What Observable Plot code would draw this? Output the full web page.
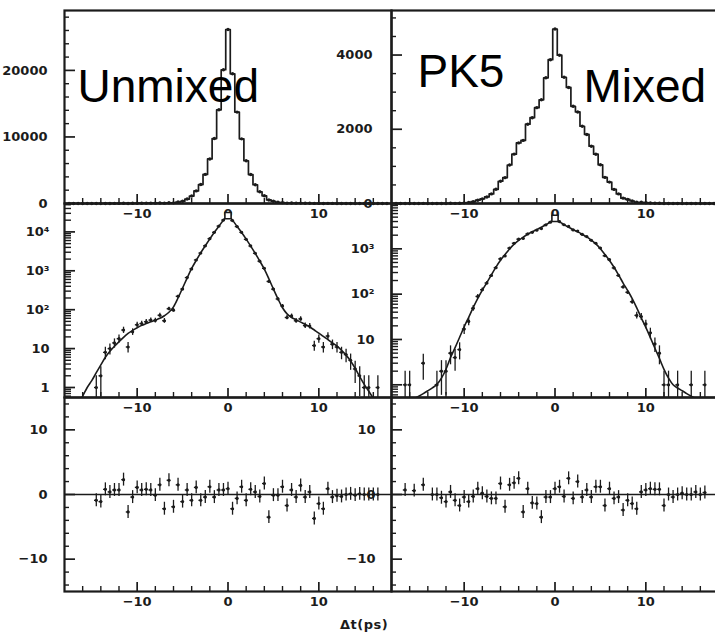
<!DOCTYPE html>
<html>
<head>
<meta charset="utf-8">
<script src="https://cdn.jsdelivr.net/npm/d3@7"></script>
<script src="https://cdn.jsdelivr.net/npm/@observablehq/plot@0.6"></script>
<style>
  html, body { margin: 0; padding: 0; background: #fff; overflow: hidden; }
  #chart { position: relative; width: 715px; height: 635px; overflow: hidden; background: #fff; }
  #chart svg { position: absolute; overflow: visible; }
  #xcaption { position: absolute; left: 340px; top: 617px; font: bold 13px "DejaVu Sans", sans-serif; letter-spacing: 0.5px; color: #1b1b1b; }
</style>
</head>
<body>
<div id="chart"><div id="xcaption">Δt(ps)</div></div>
<script>
// ---- bin centres (Δt, ps) ----
const dt = [-17.5,-17,-16.5,-16,-15.5,-15,-14.5,-14,-13.5,-13,-12.5,-12,-11.5,-11,-10.5,-10,-9.5,-9,-8.5,-8,-7.5,-7,-6.5,-6,-5.5,-5,-4.5,-4,-3.5,-3,-2.5,-2,-1.5,-1,-0.5,0,0.5,1,1.5,2,2.5,3,3.5,4,4.5,5,5.5,6,6.5,7,7.5,8,8.5,9,9.5,10,10.5,11,11.5,12,12.5,13,13.5,14,14.5,15,15.5,16,16.5,17,17.5];

// ---- Unmixed sample ----
const unmixedCounts = [0,0,0,0,0,0,1,2,8,10,14,18,30,11,27,41,44,49,54,53,72,52,106,97,221,339,668,1119,1897,2851,4373,6697,9760,14083,20099,26145,19490,13730,9718,6427,4352,2821,1767,1156,533,338,189,125,63,69,52,58,39,38,12,18,11,21,13,11,8,7,5,3,2,1,1,0,1,0,0];
const unmixedFit = [0.15,0.25,0.38,0.6,1.0,1.5,2.4,3.8,6.0,8.5,11.5,15,19.5,24.5,29.5,34.5,39.5,44,49,54,60,70,86,118,200,360,650,1150,1850,2900,4400,6600,9800,14000,20000,26000,19800,13800,9600,6500,4300,2800,1780,1100,620,340,190,112,78,63,55,48,42,36,30,25,20.5,17,14,11.5,9,6.8,4.8,3.1,1.9,1.2,0.8,0.52,0.33,0.2,0.12];
const unmixedResid = [null,null,null,null,null,null,-0.9,-1.1,0.8,0.4,0.7,0.7,2.3,-2.7,-0.4,1.1,0.7,0.8,0.7,-0.1,1.5,-2.2,2.2,-1.9,1.5,-1.1,0.7,-0.9,1.1,-0.9,-0.4,1.2,-0.4,0.7,0.7,0.9,-2.2,-0.6,1.2,-0.9,0.8,0.4,-0.3,1.7,-3.5,-0.1,-0.1,1.2,-1.7,0.7,-0.4,1.4,-0.4,0.4,-3.7,-1.4,-2.2,0.9,-0.4,-0.2,-0.3,0,0.1,-0.1,0.1,0,0,0,0,null,null];

// ---- Mixed sample ----
const mixedCounts = [0,0,1,1,0,0,3,0,0,1,2,2,5,4,6,17,25,49,89,125,176,258,383,600,696,1037,1329,1633,1700,2136,2312,2583,2794,3387,3875,4701,3995,3402,3127,2619,2467,2082,1860,1544,1328,1043,703,576,380,258,144,110,68,34,32,22,14,8,5,1,1,0,1,0,0,1,0,0,1,0,0];
const mixedFit = [0.36,0.39,0.42,0.45,0.5,0.56,0.64,0.74,0.86,1.02,1.4,2.2,4.0,6.6,11.2,19,31,51,81,123,180,268,395,560,748,990,1265,1535,1815,2095,2375,2655,2985,3410,3900,4640,3920,3420,2990,2650,2370,2100,1830,1560,1285,1005,750,555,392,265,176,120,80,50,30,18.5,11,6.4,3.8,2.2,1.4,1.0,0.85,0.74,0.64,0.56,0.5,0.45,0.42,0.39,0.36];
const mixedResid = [null,null,0.7,null,0.6,null,1.5,null,0,0,-0.5,-1.1,0.4,-0.9,-1.7,-0.4,-1.1,-0.3,0.9,0.2,-0.3,-0.6,-0.6,1.7,-1.9,1.5,1.8,2.5,-2.7,0.9,-1.3,-1.4,-3.5,-0.4,-0.4,0.9,1.2,-0.3,2.5,-0.6,2.0,-0.4,0.7,-0.4,1.2,1.2,-1.7,0.9,-0.6,-0.4,-2.4,-0.9,-1.4,-2.2,0.4,0.7,0.9,0.8,0.8,-1.7,0,-0.4,0,0.2,0,0,0.4,0,0.3,null,null];
const residErr = 1;

// ---- ticks and tick labels ----
const xMajor = [-10, 0, 10];
const xLabels = ["\u221210", "0", "10"];
const xMinor = [-16,-14,-12,-8,-6,-4,-2,2,4,6,8,12,14,16];
const linLeftMajor = [0, 10000, 20000];
const linLeftLabels = ["0", "10000", "20000"];
const linLeftMinor = [2000,4000,6000,8000,12000,14000,16000,18000,22000,24000,26000,28000];
const linRightMajor = [0, 2000, 4000];
const linRightLabels = ["0", "2000", "4000"];
const linRightMinor = [500,1000,1500,2500,3000,3500,4500,5000];
const logLeftMajor = [1, 10, 100, 1000, 10000];
const logLeftLabels = ["1", "10", "10\u00B2", "10\u00B3", "10\u2074"];
const logRightMajor = [1, 10, 100, 1000, 10000];
const logRightLabels = ["", "10", "10\u00B2", "10\u00B3", ""];
const logMinorLeft = [0.6,0.7,0.8,0.9,2,3,4,5,6,7,8,9,20,30,40,50,60,70,80,90,200,300,400,500,600,700,800,900,2000,3000,4000,5000,6000,7000,8000,9000,20000,30000,40000,50000];
const logMinorRight = [0.6,0.7,0.8,0.9,2,3,4,5,6,7,8,9,20,30,40,50,60,70,80,90,200,300,400,500,600,700,800,900,2000,3000,4000,5000,6000,7000,8000,9000];
const resMajor = [-10, 0, 10];
const resLabels = ["\u221210", "0", "10"];
const resMinor = [-14,-12,-8,-6,-4,-2,2,4,6,8,12,14];

const INK = "#1b1b1b";
const FONT = "'DejaVu Sans', sans-serif";
const BIG = "'Liberation Sans', Arial, sans-serif";
const chart = document.getElementById("chart");

const rows = (counts, fit, resid) => dt.map((t, i) => ({t, n: counts[i], fit: fit[i], r: resid[i]}));
const unmixed = rows(unmixedCounts, unmixedFit, unmixedResid);
const mixed = rows(mixedCounts, mixedFit, mixedResid);

function xAxes() {
  return [
    Plot.axisX({ticks: xMinor, tickSize: -5, tickFormat: () => "", stroke: INK, strokeWidth: 1.4, label: null}),
    Plot.axisX({ticks: xMajor, tickSize: -9, tickFormat: () => "", stroke: INK, strokeWidth: 1.7, label: null}),
    Plot.axisX({ticks: xMajor, tickSize: 0, tickPadding: 5, tickFormat: d => xLabels[xMajor.indexOf(d)], label: null, fill: INK})
  ];
}
function yAxes(major, labels, minor, pad, minorLen = 5) {
  return [
    Plot.axisY({ticks: minor, tickSize: -minorLen, tickFormat: () => "", stroke: INK, strokeWidth: 1.4, label: null}),
    Plot.axisY({ticks: major, tickSize: -11, tickFormat: () => "", stroke: INK, strokeWidth: 1.7, label: null}),
    Plot.axisY({ticks: major, tickSize: 0, tickPadding: pad, tickFormat: d => labels[major.indexOf(d)], label: null, fill: INK})
  ];
}

function panel(left, top, h, y, marks) {
  const W = 327, ML = 70, MR = 4, MT = 4, MB = 26;
  const svg = Plot.plot({
    width: W + ML + MR, height: h + MT + MB,
    marginLeft: ML, marginRight: MR, marginTop: MT, marginBottom: MB,
    style: {background: "transparent", overflow: "visible", fontFamily: FONT, fontSize: "13px", fontWeight: "bold", color: INK},
    x: {domain: [-18, 18]},
    y,
    marks: [...marks, ...xAxes(), Plot.frame({stroke: INK, strokeWidth: 2.2})]
  });
  svg.style.left = (left - ML) + "px";
  svg.style.top = (top - MT) + "px";
  chart.appendChild(svg);
}

function linMarks(data) {
  return [
    Plot.line(data, {x: "t", y: "n", curve: "step", stroke: INK, strokeWidth: 1.7}),
    Plot.dot(data, {x: "t", y: "n", r: 1.7, fill: INK})
  ];
}
function logMarks(data) {
  const pts = data.filter(d => d.n > 0);
  return [
    Plot.line(data, {x: "t", y: "fit", curve: "monotone-x", stroke: INK, strokeWidth: 1.6, clip: true}),
    Plot.ruleX(pts, {x: "t", y1: d => Math.max(d.n - Math.sqrt(d.n), 0.01), y2: d => d.n + Math.sqrt(d.n), stroke: INK, strokeWidth: 1.3, clip: true}),
    Plot.ruleY(pts, {y: "n", x1: d => d.t - 0.2, x2: d => d.t + 0.2, stroke: INK, strokeWidth: 1.3, clip: true}),
    Plot.dot(pts, {x: "t", y: "n", r: 1.6, fill: INK, clip: true}),
    Plot.dot(pts.filter(d => d.t === 0), {x: "t", y: "n", symbol: "square", r: 3.5, fill: "white", stroke: INK, strokeWidth: 1.6})
  ];
}
function resMarks(data) {
  const pts = data.filter(d => d.r !== null);
  return [
    Plot.ruleY([0], {stroke: INK, strokeWidth: 1.6}),
    Plot.ruleX(pts, {x: "t", y1: d => d.r - residErr, y2: d => d.r + residErr, stroke: INK, strokeWidth: 1.3}),
    Plot.ruleY(pts, {y: "r", x1: d => d.t - 0.2, x2: d => d.t + 0.2, stroke: INK, strokeWidth: 1.3}),
    Plot.dot(pts, {x: "t", y: "r", r: 1.6, fill: INK})
  ];
}
const bigText = (label, dx, dy) => Plot.text([label], {frameAnchor: "top-left", dx, dy, text: d => d, fontSize: 46, fontWeight: "normal", fontFamily: BIG, textAnchor: "start", lineAnchor: "top", fill: "#000"});

// Right column
panel(391, 10, 193, {domain: [0, 5200]}, [
  ...linMarks(mixed), ...yAxes(linRightMajor, linRightLabels, linRightMinor, 19),
  bigText("PK5", 26, 44), bigText("Mixed", 192, 59)
]);
panel(391, 203, 194, {type: "log", domain: [0.525, 10000]}, [
  ...logMarks(mixed), ...yAxes(logRightMajor, logRightLabels, logMinorRight, 17, 7)
]);
panel(391, 397, 194, {domain: [-15, 15]}, [
  ...resMarks(mixed), ...yAxes(resMajor, resLabels, resMinor, 16)
]);
// Left column
panel(64, 10, 193, {domain: [0, 29000]}, [
  ...linMarks(unmixed), ...yAxes(linLeftMajor, linLeftLabels, linLeftMinor, 17),
  bigText("Unmixed", 13, 59)
]);
panel(64, 203, 194, {type: "log", domain: [0.553, 53700]}, [
  ...logMarks(unmixed), ...yAxes(logLeftMajor, logLeftLabels, logMinorLeft, 15, 7)
]);
panel(64, 397, 194, {domain: [-15, 15]}, [
  ...resMarks(unmixed), ...yAxes(resMajor, resLabels, resMinor, 17)
]);
</script>
</body>
</html>
